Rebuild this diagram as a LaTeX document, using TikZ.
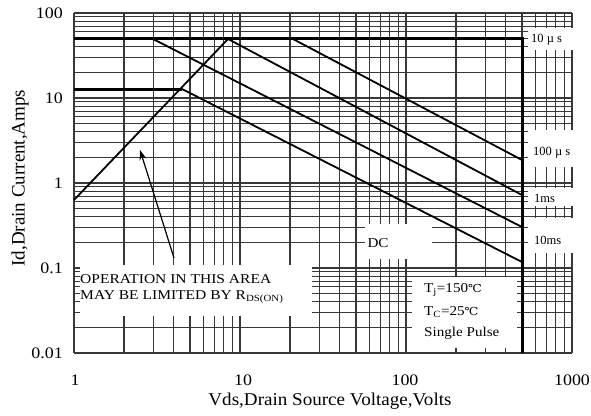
\documentclass[tikz,border=0pt]{standalone}
\usepackage{fontspec}
\setmainfont{Liberation Serif}
\newfontfamily\symfont{DejaVu Serif}
\usetikzlibrary{arrows.meta}
\newcommand{\hs}[2][1.12]{\scalebox{#1}[1]{#2}}
\newcommand{\degc}{{\symfont\fontsize{11}{12}\selectfont ℃}}
\begin{document}
\begin{tikzpicture}[x=1pt,y=-1pt,
  gridline/.style={line width=1.1pt, black!78},
  limitline/.style={line width=3pt, black},
  curve/.style={line width=1.8pt, black},
  gap/.style={fill=white, draw=none},
  ticklabel/.style={font=\fontsize{16}{16}\selectfont, inner sep=0pt},
  axistitle/.style={font=\fontsize{18}{18}\selectfont, inner sep=0pt},
  note/.style={font=\fontsize{13.5}{14}\selectfont, inner sep=0pt, anchor=west},
  sidelabel/.style={font=\fontsize{12.5}{13}\selectfont, inner sep=0pt, anchor=west},
]
\useasboundingbox[fill=white] (0,0) rectangle (591,415);

% vertical grid lines
\foreach \d in {0,1,2}{
  \foreach \k in {1,...,9}{
    \pgfmathsetmacro\xx{74+166*(\d+log10(\k))}
    \draw[gridline] (\xx,13) -- (\xx,353);
  }
}
\draw[gridline] (572,13) -- (572,353);
% horizontal grid lines
\foreach \d in {-2,-1,0,1}{
  \foreach \k in {1,...,9}{
    \pgfmathsetmacro\yy{13+85*(2-(\d)-log10(\k))}
    \draw[gridline] (74,\yy) -- (572,\yy);
  }
}
\draw[gridline] (74,13) -- (572,13);

% white gaps behind labels
\fill[gap] (80,265) rectangle (312,316);
\fill[gap] (365,224) rectangle (432,259);
\fill[gap] (412,277) rectangle (517,348);
\fill[gap] (528,28) rectangle (580,50);
\fill[gap] (528,130) rectangle (580,167);
\fill[gap] (528,188) rectangle (580,206);
\fill[gap] (528,218) rectangle (580,253);

% limit lines
\coordinate (lim50a) at (74,38.6);
\coordinate (lim50b) at (522,38.6);
\coordinate (v500b) at (522,353);
\coordinate (lim12a) at (74,89);
\coordinate (lim12b) at (182,89);
\draw[limitline] (lim50a) -- (lim50b) -- (v500b);
\draw[limitline] (lim12a) -- (lim12b);

% Rds(on) line and pulse lines
\coordinate (rdsA) at (74,200);
\coordinate (rdsB) at (228,39);
\coordinate (dcA) at (182,89);
\coordinate (dcB) at (522,262);
\coordinate (msTenA) at (153,39);
\coordinate (msTenB) at (522,227);
\coordinate (msOneA) at (228,39);
\coordinate (msOneB) at (522,195);
\coordinate (usA) at (293,39);
\coordinate (usB) at (522,160);
\draw[curve] (rdsA) -- (rdsB);
\draw[curve] (dcA) -- (dcB);
\draw[curve] (msTenA) -- (msTenB);
\draw[curve] (msOneA) -- (msOneB);
\draw[curve] (usA) -- (usB);

% arrow
\coordinate (arrTail) at (174,258);
\coordinate (arrTip) at (140,150);
\draw[line width=1.2pt, -{Stealth[length=10pt,width=7pt]}] (arrTail) -- (arrTip);

% tick labels
\node[ticklabel, anchor=east] (y100) at (63,13) {\hs{100}};
\node[ticklabel, anchor=east] (y10) at (63,98) {\hs{10}};
\node[ticklabel, anchor=east] (y1) at (63,183) {\hs{1}};
\node[ticklabel, anchor=east] (y01) at (63,268) {\hs{0.1}};
\node[ticklabel, anchor=east] (y001) at (63,353) {\hs{0.01}};
\node[ticklabel] (x1) at (75,380) {\hs{1}};
\node[ticklabel] (x10) at (243,380) {\hs{10}};
\node[ticklabel] (x100) at (405,380) {\hs{100}};
\node[ticklabel] (x1000) at (572,380) {\hs{1000}};

% axis titles
\node[axistitle] (xtitle) at (330,401) {\hs[1.06]{Vds,Drain Source Voltage,Volts}};
\node[axistitle, font=\fontsize{19}{19}\selectfont, rotate=90] (ytitle) at (20,178) {Id,Drain Current,Amps};

% notes
\node[note] (op1) at (80,279) {\hs[1.15]{OPERATION IN THIS AREA}};
\node[note] (op2) at (80,297) {\hs[1.15]{MAY BE LIMITED BY R\textsubscript{DS(ON)}}};
\node[note, anchor=center] (dc) at (378,243) {\hs{DC}};
\node[note] (tj) at (424,290) {\hs{T\textsubscript{j}=150\degc}};
\node[note] (tc) at (424,312) {\hs{T\textsubscript{C}=25\degc}};
\node[note] (sp) at (424,333) {\hs{Single Pulse}};
\node[sidelabel] (l10us) at (531,40) {10 µ s};
\node[sidelabel] (l100us) at (533,153) {100 µ s};
\node[sidelabel] (l1ms) at (534,198) {1ms};
\node[sidelabel] (l10ms) at (534,240) {10ms};
\end{tikzpicture}
\end{document}
